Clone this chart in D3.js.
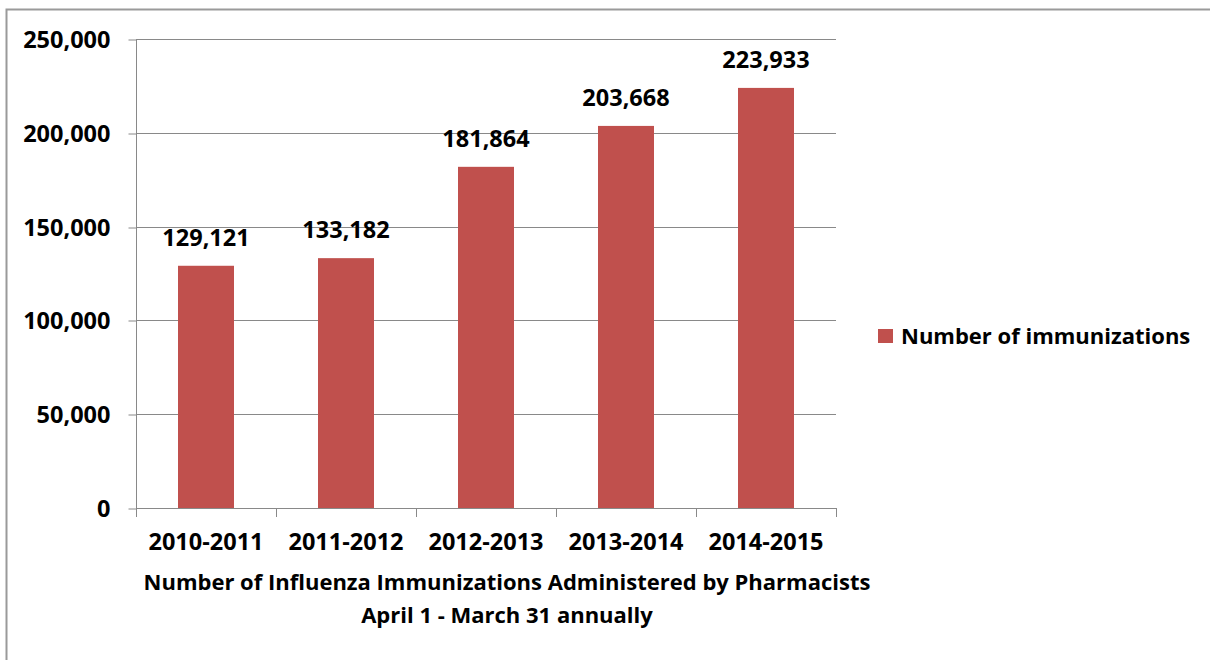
<!DOCTYPE html>
<html>
<head>
<meta charset="utf-8">
<script src="https://cdn.jsdelivr.net/npm/d3@7"></script>
<style>
  html, body { margin: 0; padding: 0; background: #ffffff; }
  svg { display: block; }
  text { font-family: "Open Sans", "Liberation Sans", sans-serif; font-weight: 700; fill: #000; }
</style>
</head>
<body>
<svg id="chart" width="1210" height="660"></svg>
<script>
// Influenza immunizations administered by pharmacists, per season
const seasons = ["2010-2011", "2011-2012", "2012-2013", "2013-2014", "2014-2015"];
const immunizations = [129121, 133182, 181864, 203668, 223933];
const yTicks = [0, 50000, 100000, 150000, 200000, 250000];
const seriesName = "Number of immunizations";
const titleLines = [
  "Number of Influenza Immunizations Administered by Pharmacists",
  "April 1 - March 31 annually"
];

const svg = d3.select("#chart");
const W = 1210, H = 660;
const plot = { left: 136, right: 836, top: 39, bottom: 508 };
const barColor = "#C0504D";
const gridColor = "#898989";
const fmt = d3.format(",");
const numSize = "23.5px";
const textSize = "22px";

// outer chart frame (right and bottom edges run past the canvas)
svg.append("rect")
  .attr("x", 6.5).attr("y", 9.5)
  .attr("width", W + 20).attr("height", H + 20)
  .attr("fill", "#fff")
  .attr("stroke", "#9a9a9a")
  .attr("stroke-width", 2);

const x = d3.scaleBand()
  .domain(seasons)
  .range([plot.left, plot.right])
  .paddingInner(0.6)
  .paddingOuter(0.3);

const y = d3.scaleLinear()
  .domain([0, 250000])
  .range([plot.bottom, plot.top]);

// horizontal gridlines
svg.append("g")
  .selectAll("line")
  .data(yTicks.filter(d => d > 0))
  .join("line")
  .attr("x1", plot.left).attr("x2", plot.right)
  .attr("y1", d => Math.round(y(d)) + 0.5)
  .attr("y2", d => Math.round(y(d)) + 0.5)
  .attr("stroke", gridColor)
  .attr("stroke-width", 1);

// bars
svg.append("g")
  .selectAll("rect")
  .data(seasons.map((s, i) => ({ s, v: immunizations[i] })))
  .join("rect")
  .attr("x", d => x(d.s))
  .attr("y", d => y(d.v))
  .attr("width", x.bandwidth())
  .attr("height", d => y(0) - y(d.v))
  .attr("fill", barColor);

// value labels
svg.append("g")
  .selectAll("text")
  .data(seasons.map((s, i) => ({ s, v: immunizations[i] })))
  .join("text")
  .attr("x", d => x(d.s) + x.bandwidth() / 2)
  .attr("y", d => y(d.v) - 20)
  .attr("text-anchor", "middle")
  .style("font-size", numSize)
  .text(d => fmt(d.v));

// y axis
const yAxis = svg.append("g")
  .attr("transform", `translate(${plot.left + 0.5},0)`)
  .call(d3.axisLeft(y).tickValues(yTicks).tickFormat(fmt).tickSize(8).tickPadding(18));
yAxis.select(".domain").attr("stroke", gridColor).attr("d", `M0,${plot.top}V${plot.bottom}`);
yAxis.selectAll(".tick line").attr("stroke", gridColor)
  .attr("transform", d => `translate(0,${Math.round(y(d)) + 0.5 - y(d)})`);
yAxis.selectAll(".tick text").style("font-size", numSize).attr("dy", "0.36em");

// x axis: labels centred on bands, tick marks on band boundaries
const xAxis = svg.append("g")
  .attr("transform", `translate(0,${plot.bottom + 0.5})`)
  .call(d3.axisBottom(x).tickSize(0).tickPadding(25));
xAxis.select(".domain").attr("stroke", gridColor).attr("d", `M${plot.left},0H${plot.right}`);
xAxis.selectAll(".tick text").style("font-size", numSize);

const step = x.step();
const boundaries = seasons.map(s => x(s) - step * x.paddingOuter()).concat([plot.right]);
svg.append("g")
  .selectAll("line")
  .data(boundaries)
  .join("line")
  .attr("x1", d => Math.round(d) + 0.5).attr("x2", d => Math.round(d) + 0.5)
  .attr("y1", plot.bottom).attr("y2", plot.bottom + 9)
  .attr("stroke", gridColor);

// axis title (two lines)
svg.append("g")
  .selectAll("text")
  .data(titleLines)
  .join("text")
  .attr("x", 507)
  .attr("y", (d, i) => 590 + i * 33)
  .attr("text-anchor", "middle")
  .style("font-size", textSize)
  .text(d => d);

// legend
const legend = svg.append("g").attr("transform", "translate(878,329)");
legend.append("rect")
  .attr("width", 15).attr("height", 14)
  .attr("fill", barColor);
legend.append("text")
  .attr("x", 23).attr("y", 7)
  .attr("dy", "0.36em")
  .style("font-size", textSize)
  .text(seriesName);
</script>
</body>
</html>
